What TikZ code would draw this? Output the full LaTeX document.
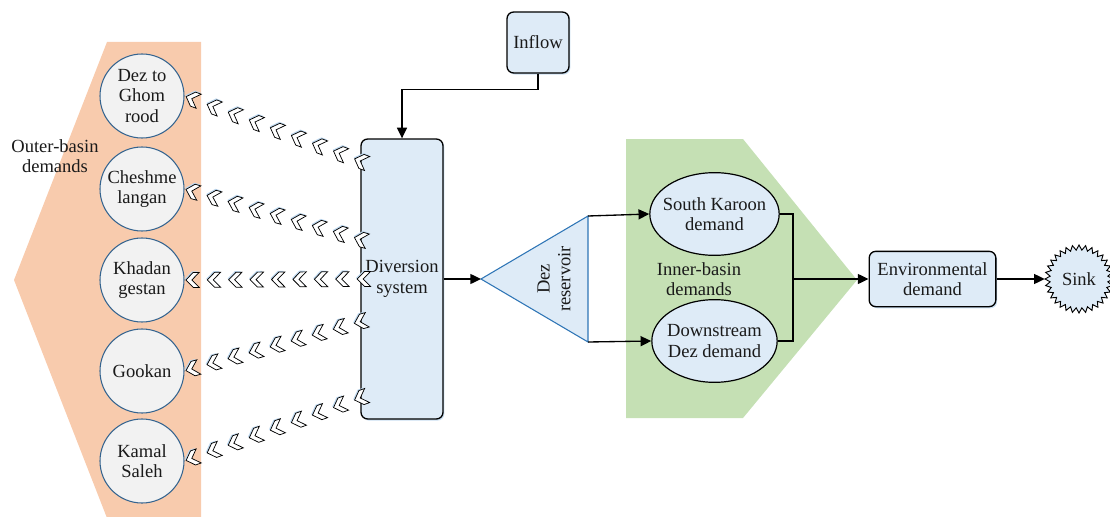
\documentclass[tikz,border=0pt]{standalone}
\usepackage{fontspec}
\setmainfont{Liberation Serif}
\usetikzlibrary{arrows.meta,decorations.markings,shapes.geometric,shadows,calc}
\definecolor{orangebg}{HTML}{F8CBAD}
\definecolor{greenbg}{HTML}{C5E0B4}
\definecolor{boxfill}{HTML}{DEEBF7}
\definecolor{circfill}{HTML}{F2F2F2}
\definecolor{circline}{HTML}{35648F}
\definecolor{tribord}{HTML}{2E75B6}
\definecolor{txt}{HTML}{1A1A1A}
\definecolor{shadowc}{HTML}{BDD7EE}
\begin{document}
\begin{tikzpicture}[x=0.75pt,y=-0.75pt,
  font=\fontsize{13.9}{15.5}\selectfont,
  every node/.style={text=txt},
  box/.style={draw=black, line width=1pt, rounded corners=5pt, fill=boxfill, align=center, inner sep=0pt,
    drop shadow={shadow xshift=1pt, shadow yshift=-1.2pt, fill=shadowc, opacity=0.8}},
  demcirc/.style={circle, draw=circline, line width=0.8pt, fill=circfill, minimum size=63pt, inner sep=0pt, align=center},
  demell/.style={ellipse, draw=black, line width=0.9pt, fill=boxfill, minimum width=94pt, minimum height=62pt, inner xsep=-4.5pt, inner ysep=0pt, align=center},
  lab/.style={align=center, inner sep=0pt},
  conn/.style={line width=1pt, draw=black},
  arr/.style={conn, -{Triangle[length=8pt,width=7.5pt]}},
  chev/.style={decorate, decoration={markings,
    mark=between positions 0.012 and 0.97 step 0.118 with {
      \fill[shadowc] (5.8pt,-0.9pt) -- (0.3pt,4.7pt) -- (-4.2pt,4.7pt) -- (1.3pt,-0.9pt) -- (-4.2pt,-6.5pt) -- (0.3pt,-6.5pt) -- cycle;
      \filldraw[fill=white, draw=black, line width=0.55pt, line join=miter]
        (5pt,0pt) -- (-0.5pt,5.6pt) -- (-5pt,5.6pt) -- (0.5pt,0pt) -- (-5pt,-5.6pt) -- (-0.5pt,-5.6pt) -- cycle;
    }}}
]
\useasboundingbox (0,0) rectangle (1110,517);

% background regions
\fill[orangebg] (107,42) -- (201,42) -- (201,518) -- (107,518) -- (14,280) -- cycle;
\fill[greenbg] (626,139) -- (743,139) -- (857,280) -- (743,418) -- (626,418) -- cycle;

% region labels
\node[lab] (outerlab) at (55,156) {Outer-basin\\demands};
\node[lab] (innerlab) at (699,279) {Inner-basin\\demands};

% outer-basin demand circles
\node[demcirc] (c1) at (142,96) {Dez to\\Ghom\\rood};
\node[demcirc] (c2) at (142,189) {Cheshme\\langan};
\node[demcirc] (c3) at (142,280) {Khadan\\gestan};
\node[demcirc] (c4) at (142,371) {Gookan};
\node[demcirc] (c5) at (142,461) {Kamal\\Saleh};

% main boxes
\node[box, minimum width=46.5pt, minimum height=45.75pt] (inflow) at (538,42.5) {Inflow};
\node[box, minimum width=61.5pt, minimum height=210pt] (div) at (402,279) {Diversion\\system};
\node[box, minimum width=95pt, minimum height=41.5pt] (env) at (932.5,279) {Environmental\\demand};

% inner-basin demands
\node[demell] (sk) at (714.5,214) {South Karoon\\demand};
\node[demell] (dd) at (714.5,341) {Downstream\\Dez demand};

% reservoir triangle
\coordinate (tTip) at (481,279);
\coordinate (tTop) at (588,216);
\coordinate (tBot) at (588,342);
\filldraw[fill=boxfill, draw=tribord, line width=0.8pt, line join=miter] (tTip) -- (tTop) -- (tBot) -- cycle;
\node[lab, rotate=90] (dezres) at (554,279) {Dez\\reservoir};

% sink starburst
\filldraw[fill=boxfill, draw=black, line width=0.7pt]
  plot[domain=0:63, samples=64, variable=\k]
  ({1079+(34-5*mod(\k,2))*cos(\k*5.625)},{279+(34-5*mod(\k,2))*sin(\k*5.625)}) -- cycle;
\node[circle, minimum size=51pt, inner sep=0pt] (sink) at (1079,279) {Sink};

% connectors
\draw[arr] (inflow.south) -- ++(0,16) -| (div.north);
\draw[arr] (div.east) -- (tTip);
\draw[arr] (tTop) -- (sk.west);
\draw[arr] (tBot) -- (dd.west);
\coordinate (join) at (793,279);
\draw[conn] (sk.east) -| (join);
\draw[conn] (dd.east) -| (join);
\draw[arr] (join) -- (env.west);
\draw[arr] (env.east) -- (sink);

% chevron flows from diversion system to outer-basin demands
\coordinate (d1) at (363,162);
\coordinate (d2) at (363,240);
\coordinate (d3) at (366,279);
\coordinate (d4) at (363,321);
\coordinate (d5) at (363,397);
\path[chev] (d1) -- (c1.east);
\path[chev] (d2) -- (c2.east);
\path[chev] (d3) -- (c3.east);
\path[chev] (d4) -- (c4.east);
\path[chev] (d5) -- (c5.east);
\end{tikzpicture}
\end{document}
